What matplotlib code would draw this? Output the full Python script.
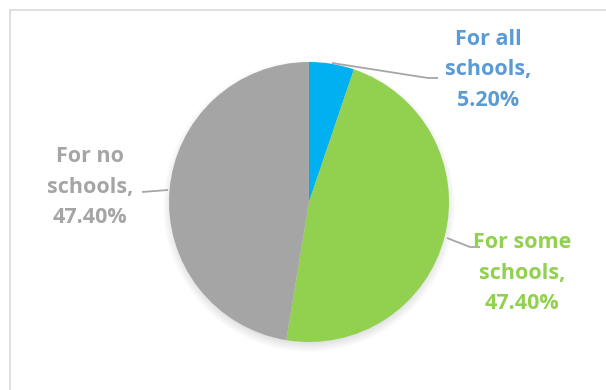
import matplotlib
matplotlib.use("Agg")
import matplotlib.pyplot as plt
from matplotlib.patches import Rectangle, Circle

W, H = 606, 390

labels = ["For all\nschools,", "For some\nschools,", "For no\nschools,"]
shares = [5.2, 47.4, 47.4]
wedge_colors = ["#00B0F0", "#92D050", "#A5A5A5"]
text_colors = ["#5B9BD5", "#92D050", "#A5A5A5"]

# label anchor (centre of text block) and leader line points, in pixels from top-left
label_pos = [(488, 70), (522, 273), (90, 187)]
leaders = [
    [(332, 63), (428, 78), (438, 78)],
    [(447, 238), (470, 247), (480, 247)],
    [(168, 190), (142, 192)],
]

cx, cy, r = 309, 202, 140

fig = plt.figure(figsize=(W / 100, H / 100), dpi=100)
ax = fig.add_axes([0, 0, 1, 1])


def fy(y):
    return H - y


# chart area frame
ax.add_patch(Rectangle((9.5, -20), W + 20, fy(9.5) + 20, fill=False,
                       edgecolor="#D9D9D9", linewidth=1.2))

# soft drop shadow under the pie
for i in range(12):
    ax.add_patch(Circle((cx, fy(cy) - 4), r + 6 - i, color="black",
                        alpha=0.012, linewidth=0, zorder=1))

ax.pie(shares, colors=wedge_colors, startangle=90, counterclock=False,
       center=(cx, fy(cy)), radius=r, frame=True,
       wedgeprops=dict(linewidth=0, zorder=2))
ax.set_xlim(0, W)
ax.set_ylim(0, H)
ax.set_aspect("auto")
ax.axis("off")

for lab, val, col, (px, py), pts in zip(labels, shares, text_colors,
                                         label_pos, leaders):
    ax.plot([p[0] for p in pts], [fy(p[1]) for p in pts], color="#A6A6A6",
            linewidth=1.3, zorder=3, solid_capstyle="butt")
    ax.text(px, fy(py), f"{lab}\n{val:.2f}%", color=col, fontsize=15.5,
            fontweight="bold", family=["Open Sans", "DejaVu Sans"],
            ha="center", va="center", linespacing=1.6, zorder=4)

fig.savefig("out.png", dpi=100)
